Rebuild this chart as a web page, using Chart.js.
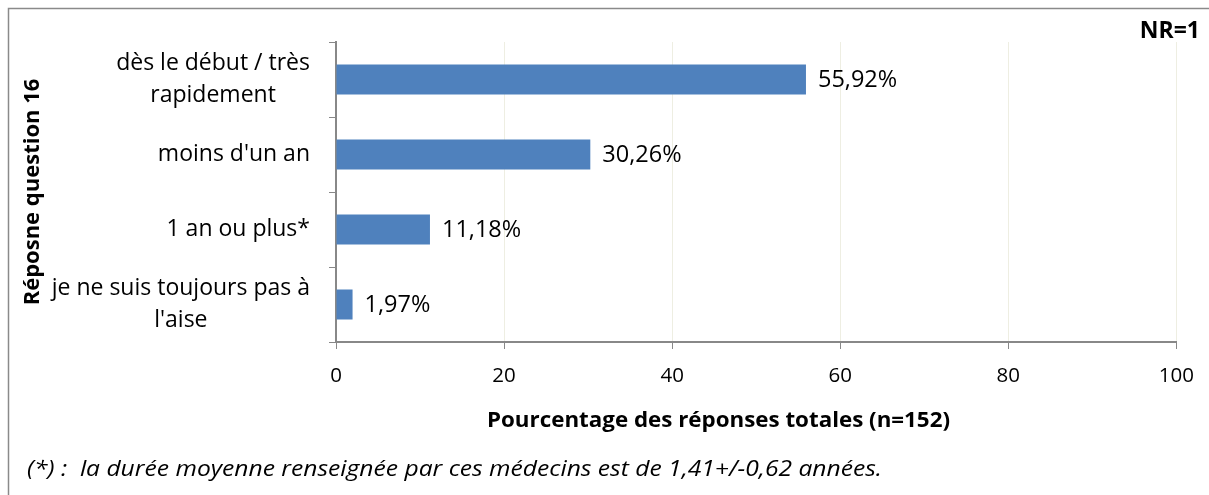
<!DOCTYPE html>
<html>
<head>
<meta charset="utf-8">
<script src="https://cdn.jsdelivr.net/npm/chart.js@4/dist/chart.umd.min.js"></script>
<style>
  html, body { margin: 0; padding: 0; background: #fff; }
  #wrap { width: 1209px; height: 495px; }
</style>
</head>
<body>
<div id="wrap"><canvas id="chart" width="1209" height="495"></canvas></div>
<script>
// --- data ---
const categories = [
    ['dès le début / très', 'rapidement'],
    ["moins d'un an"],
    ['1 an ou plus*'],
    ['je ne suis toujours pas à', "l'aise"]
];
const values = [55.92, 30.26, 11.18, 1.97];
const valueLabels = ['55,92%', '30,26%', '11,18%', '1,97%'];
const xTicks = [0, 20, 40, 60, 80, 100];

const FONT = '"Open Sans", Lato, sans-serif';
const AXIS_GREY = '#888888';

// draw text squeezed/stretched horizontally to a given width
function fitText(ctx, text, x, y, width) {
    const w = ctx.measureText(text).width;
    ctx.save();
    ctx.translate(x, y);
    ctx.scale(width / w, 1);
    ctx.fillText(text, 0, 0);
    ctx.restore();
}

// extra text + frame drawn on the canvas
const decorations = {
    id: 'decorations',
    beforeDraw(chart) {
        const ctx = chart.ctx;
        ctx.save();
        ctx.fillStyle = '#fff';
        ctx.fillRect(0, 0, chart.width, chart.height);
        ctx.strokeStyle = '#8a8a8a';
        ctx.lineWidth = 1.5;
        ctx.beginPath();
        ctx.moveTo(8.5, chart.height);
        ctx.lineTo(8.5, 8.5);
        ctx.lineTo(chart.width, 8.5);
        ctx.stroke();
        ctx.restore();
    },
    afterDraw(chart) {
        const ctx = chart.ctx;
        const y = chart.scales.y;
        ctx.save();
        ctx.fillStyle = '#000';

        // category labels: block right-aligned, lines centred within block
        ctx.font = '23px ' + FONT;
        ctx.textBaseline = 'middle';
        ctx.textAlign = 'center';
        const right = 310, lh = 32;
        categories.forEach((lines, i) => {
            const cy = y.getPixelForValue(i);
            const w = Math.max(...lines.map(l => ctx.measureText(l).width));
            const cx = right - w / 2;
            lines.forEach((l, j) => {
                ctx.fillText(l, cx, cy + (j - (lines.length - 1) / 2) * lh);
            });
        });

        // value labels at bar ends
        ctx.font = '23.5px ' + FONT;
        ctx.textAlign = 'left';
        chart.getDatasetMeta(0).data.forEach((bar, i) => {
            ctx.fillText(valueLabels[i], bar.x + 12, bar.y + 1);
        });

        // x axis title
        ctx.font = 'bold 21px ' + FONT;
        ctx.textAlign = 'left';
        fitText(ctx, 'Pourcentage des réponses totales (n=152)', 487, 421, 463);

        // NR
        ctx.font = 'bold 23px ' + FONT;
        ctx.textAlign = 'right';
        ctx.fillText('NR=1', 1200, 31);

        // footnote
        ctx.font = 'italic 22.5px ' + FONT;
        ctx.textAlign = 'left';
        fitText(ctx, '(*) :  la durée moyenne renseignée par ces médecins est de 1,41+/-0,62 années.', 27, 470, 855);
        ctx.restore();
    }
};

new Chart(document.getElementById('chart'), {
    type: 'bar',
    data: {
        labels: categories,
        datasets: [{
            data: values,
            backgroundColor: '#4F81BD',
            categoryPercentage: 0.8,
            barPercentage: 0.5
        }]
    },
    options: {
        indexAxis: 'y',
        responsive: false,
        animation: false,
        layout: { padding: { left: 0, right: 30, top: 42, bottom: 0 } },
        plugins: { legend: { display: false }, tooltip: { enabled: false } },
        scales: {
            x: {
                min: 0,
                max: 100,
                afterBuildTicks: (s) => { s.ticks = xTicks.map(v => ({ value: v })); },
                afterFit: (s) => { s.height = 153; },
                grid: { color: '#EEEEE2', lineWidth: 1, tickColor: AXIS_GREY, tickLength: 7, drawTicks: true },
                border: { color: AXIS_GREY, width: 2 },
                ticks: { color: '#000', font: { family: FONT, size: 20.5 }, padding: 15 }
            },
            y: {
                afterFit: (s) => { s.width = 336; },
                grid: { display: true, offset: true, drawOnChartArea: false, tickColor: AXIS_GREY, tickLength: 7 },
                border: { color: AXIS_GREY, width: 2 },
                ticks: { display: false },
                title: {
                    display: true,
                    text: 'Réposne question 16',
                    color: '#000',
                    font: { family: FONT, size: 22, weight: 'bold' },
                    padding: { top: 20, bottom: 0 }
                }
            }
        }
    },
    plugins: [decorations]
});
</script>
</body>
</html>
